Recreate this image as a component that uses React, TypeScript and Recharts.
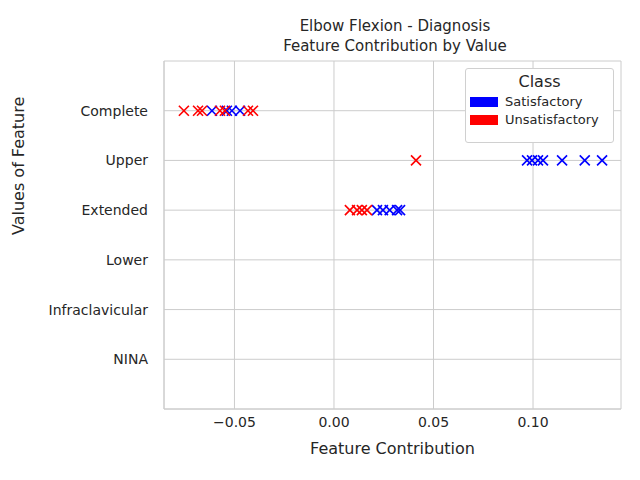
import { ScatterChart, Scatter, XAxis, YAxis, CartesianGrid } from 'recharts'

const categories = ['Complete', 'Upper', 'Extended', 'Lower', 'Infraclavicular', 'NINA']
const xTicks = [-0.05, 0, 0.05, 0.1]

// [feature contribution, category index]
const satisfactory: [number, number][] = [
  [-0.0613, 0], [-0.0538, 0], [-0.0513, 0], [-0.0472, 0],
  [0.097, 1], [0.0995, 1], [0.1025, 1], [0.105, 1], [0.1146, 1], [0.126, 1], [0.1347, 1],
  [0.0216, 2], [0.0246, 2], [0.028, 2], [0.0317, 2], [0.0332, 2],
]
const unsatisfactory: [number, number][] = [
  [-0.0754, 0], [-0.0683, 0], [-0.0663, 0], [-0.0573, 0], [-0.0548, 0], [-0.0432, 0], [-0.0407, 0],
  [0.0412, 1],
  [0.008, 2], [0.0116, 2], [0.014, 2], [0.0166, 2],
]

const toRows = (pts: [number, number][]) => pts.map(([x, y]) => ({ x, y }))

const cross = (color: string) => (props: any) => {
  const { cx, cy } = props
  const r = 5
  return (
    <g stroke={color} strokeWidth={1.6}>
      <line x1={cx - r} y1={cy - r} x2={cx + r} y2={cy + r} />
      <line x1={cx - r} y1={cy + r} x2={cx + r} y2={cy - r} />
    </g>
  )
}

const fmt = (v: number) => (v < 0 ? '\u2212' : '') + Math.abs(v).toFixed(2)
const font = 'DejaVu Sans, sans-serif'

export default function App() {
  return (
    <div style={{ position: 'fixed', top: 0, left: 0, width: 640, height: 480, background: '#fff', fontFamily: font, color: '#262626' }}>
      <div style={{ position: 'absolute', top: 16, width: 640, paddingLeft: 150, boxSizing: 'border-box', textAlign: 'center', fontSize: 15, lineHeight: '20px' }}>
        Elbow Flexion - Diagnosis<br />Feature Contribution by Value
      </div>
      <ScatterChart width={640} height={480} margin={{ top: 61, right: 19, left: 0, bottom: 0 }}>
        <CartesianGrid stroke="#cccccc" />
        <XAxis type="number" dataKey="x" domain={[-0.0854, 0.1442]} ticks={xTicks} tickFormatter={fmt}
          height={71} tick={{ fill: '#262626', fontSize: 14, fontFamily: font }} tickLine={false}
          axisLine={{ stroke: '#cccccc' }} allowDataOverflow
          label={{ value: 'Feature Contribution', position: 'insideTop', offset: 34, fill: '#262626', fontSize: 16, fontFamily: font }} />
        <YAxis type="number" dataKey="y" domain={[-1, 6]} reversed ticks={[0, 1, 2, 3, 4, 5]}
          tickFormatter={(v: number) => categories[v]} width={164} tickLine={false} tickMargin={10}
          tick={{ fill: '#262626', fontSize: 14, fontFamily: font }} axisLine={{ stroke: '#cccccc' }}
          label={{ value: 'Values of Feature', angle: -90, position: 'insideLeft', offset: 18, fill: '#262626', fontSize: 16, fontFamily: font }} />
        <Scatter data={toRows(satisfactory)} shape={cross('#0000ff')} isAnimationActive={false} />
        <Scatter data={toRows(unsatisfactory)} shape={cross('#ff0000')} isAnimationActive={false} />
      </ScatterChart>
      <div style={{ position: 'absolute', left: 465, top: 68, width: 149, height: 75, border: '1px solid #d0d0d0', borderRadius: 3, background: '#fff', boxSizing: 'border-box', fontSize: 13 }}>
        <div style={{ textAlign: 'center', fontSize: 16, marginTop: 3 }}>Class</div>
        {[['Satisfactory', '#0000ff'], ['Unsatisfactory', '#ff0000']].map(([n, c]) => (
          <div key={n} style={{ display: 'flex', alignItems: 'center', marginLeft: 4, marginTop: 3 }}>
            <span style={{ width: 28, height: 10, background: c, marginRight: 7 }} />{n}
          </div>
        ))}
      </div>
    </div>
  )
}
